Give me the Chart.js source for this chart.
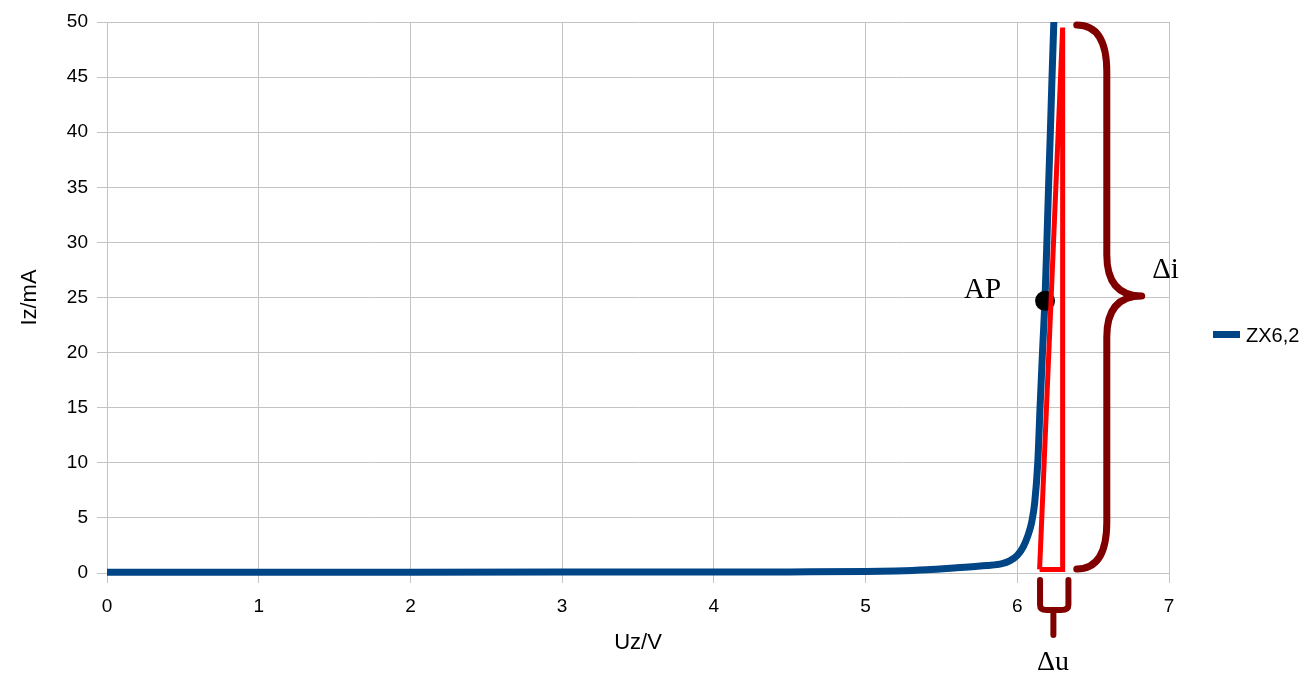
<!DOCTYPE html>
<html>
<head>
<meta charset="utf-8">
<title>ZX6,2</title>
<script src="https://cdn.jsdelivr.net/npm/chart.js@4.4.1/dist/chart.umd.min.js"></script>
<style>
  html, body { margin: 0; padding: 0; background: #fff; }
  #wrap { width: 1308px; height: 673px; }
</style>
</head>
<body>
<div id="wrap"><canvas id="chart" width="1308" height="673"></canvas></div>
<script>
// Zener diode characteristic
const seriesName = "ZX6,2";
const uzValues = [0, 1, 2, 3, 4, 4.5, 5, 5.2, 5.4, 5.6, 5.8, 5.9, 5.95, 6.0, 6.04, 6.07, 6.095, 6.115, 6.135, 6.15, 6.166, 6.183, 6.195, 6.206, 6.218, 6.229, 6.241];
const izValues = [0.06, 0.06, 0.07, 0.08, 0.09, 0.1, 0.13, 0.19, 0.3, 0.48, 0.68, 0.85, 1.1, 1.6, 2.4, 3.4, 4.6, 6.4, 10, 15, 20, 25, 30, 35, 40, 45, 50];

// axis ranges
const xRange = [0, 7, 1];
const yRange = [0, 50, 5];
const xTitle = "Uz/V";
const yTitle = "Iz/mA";

// slope triangle (red), operating point, braces and notes (data units)
const slopeU = [6.147, 6.299, 6.299, 6.147];
const slopeI = [0.32, 49.5, 0.32, 0.32];
const apPoint = [6.183, 24.7];
const diBraceU = [6.392, 6.590, 6.820];            // ends, spine, tip
const diBraceI = [49.73, 45.49, 28.86, 25.14, 21.42, 4.6, 0.36];
const duBraceU = [6.150, 6.238, 6.337];            // left, stem, right
const duBraceI = [-0.635, -2.9, -3.36, -5.63];
const noteText = ["AP", "\u0394i", "\u0394u"];
const noteU = [5.771, 6.977, 6.236];
const noteI = [24.98, 26.74, -8.8];

const blue = "#004586";
const red = "#ff0000";
const braceColor = "#800000";
const gridColor = "#c3c3c3";

Chart.defaults.font.family = "'Liberation Sans', Arial, sans-serif";
Chart.defaults.color = "#000";

const overlayPlugin = {
  id: "overlay",
  afterDatasetsDraw(chart) {
    const ctx = chart.ctx;
    const px = (v) => chart.scales.x.getPixelForValue(v);
    const py = (v) => chart.scales.y.getPixelForValue(v);
    ctx.save();
    ctx.strokeStyle = braceColor;
    ctx.lineCap = "round";
    ctx.lineJoin = "round";

    // big brace for delta i
    const e = px(diBraceU[0]), s = px(diBraceU[1]), t = px(diBraceU[2]);
    const b = diBraceI.map(py);
    ctx.lineWidth = 7;
    ctx.beginPath();
    ctx.moveTo(e, b[0]);
    ctx.quadraticCurveTo(s, b[0], s, b[1]);
    ctx.lineTo(s, b[2]);
    ctx.quadraticCurveTo(s, b[3], t, b[3]);
    ctx.quadraticCurveTo(s, b[3], s, b[4]);
    ctx.lineTo(s, b[5]);
    ctx.quadraticCurveTo(s, b[6], e, b[6]);
    ctx.stroke();

    // small brace for delta u
    const l = px(duBraceU[0]), m = px(duBraceU[1]), r = px(duBraceU[2]);
    const d = duBraceI.map(py);
    ctx.lineWidth = 6;
    ctx.beginPath();
    ctx.moveTo(l, d[0]);
    ctx.lineTo(l, d[1]);
    ctx.quadraticCurveTo(l, d[2], (l + m) / 2, d[2]);
    ctx.lineTo(m, d[2]);
    ctx.moveTo(r, d[0]);
    ctx.lineTo(r, d[1]);
    ctx.quadraticCurveTo(r, d[2], (r + m) / 2, d[2]);
    ctx.lineTo(m, d[2]);
    ctx.moveTo(m, d[2]);
    ctx.lineTo(m, d[3]);
    ctx.stroke();

    // notes
    ctx.fillStyle = "#000";
    ctx.textAlign = "center";
    ctx.textBaseline = "alphabetic";
    noteText.forEach((txt, i) => {
      ctx.font = (i === 2 ? "28px" : "29px") + " 'Liberation Serif', serif";
      ctx.fillText(txt, px(noteU[i]), py(noteI[i]));
    });
    ctx.restore();
  },
  afterDraw(chart) {
    // legend on the right
    const ctx = chart.ctx;
    const x0 = chart.chartArea.right + 44;
    const y0 = chart.height / 2 - 2;
    ctx.save();
    ctx.strokeStyle = blue;
    ctx.lineWidth = 7;
    ctx.beginPath();
    ctx.moveTo(x0, y0);
    ctx.lineTo(x0 + 27, y0);
    ctx.stroke();
    ctx.fillStyle = "#000";
    ctx.font = "20px 'Liberation Sans', Arial, sans-serif";
    ctx.textBaseline = "middle";
    ctx.textAlign = "left";
    ctx.fillText(seriesName, x0 + 33, y0 + 2);
    ctx.restore();
  }
};

function drawChart() {
  const ctx = document.getElementById("chart").getContext("2d");
  new Chart(ctx, {
    type: "scatter",
    data: {
      datasets: [
        {
          label: "slope",
          data: slopeU.map((u, i) => ({ x: u, y: slopeI[i] })),
          showLine: true,
          borderColor: red,
          borderWidth: 5,
          borderJoinStyle: "miter",
          pointRadius: 0,
          order: 1
        },
        {
          label: "AP",
          data: [{ x: apPoint[0], y: apPoint[1] }],
          pointRadius: 10,
          pointBackgroundColor: "#000",
          pointBorderWidth: 0,
          order: 2
        },
        {
          label: seriesName,
          data: uzValues.map((u, i) => ({ x: u, y: izValues[i] })),
          showLine: true,
          borderColor: blue,
          borderWidth: 7,
          pointRadius: 0,
          cubicInterpolationMode: "monotone",
          clip: { left: 0, top: 0, right: false, bottom: false },
          order: 3
        }
      ]
    },
    options: {
      responsive: false,
      animation: false,
      events: [],
      layout: { padding: { top: 22, right: 139, bottom: 0, left: 0 } },
      plugins: {
        legend: { display: false },
        tooltip: { enabled: false }
      },
      scales: {
        x: {
          type: "linear",
          min: xRange[0],
          max: xRange[1],
          ticks: { stepSize: xRange[2], font: { size: 19 }, padding: 12, color: "#000" },
          grid: { color: gridColor, tickLength: 10, tickColor: gridColor },
          border: { color: gridColor },
          title: { display: true, text: xTitle, font: { size: 22 }, color: "#000", padding: { top: 0, bottom: 17 } },
          afterFit(scale) { scale.height = 100; }
        },
        y: {
          type: "linear",
          min: yRange[0],
          max: yRange[1],
          ticks: { stepSize: yRange[2], font: { size: 19 }, padding: 9, color: "#000" },
          grid: { color: gridColor, tickLength: 10, tickColor: gridColor },
          border: { color: gridColor },
          title: { display: true, text: yTitle, font: { size: 22 }, color: "#000", padding: { top: 17, bottom: 0 } },
          afterFit(scale) { scale.width = 107; }
        }
      }
    },
    plugins: [overlayPlugin]
  });
}

drawChart();
</script>
</body>
</html>
